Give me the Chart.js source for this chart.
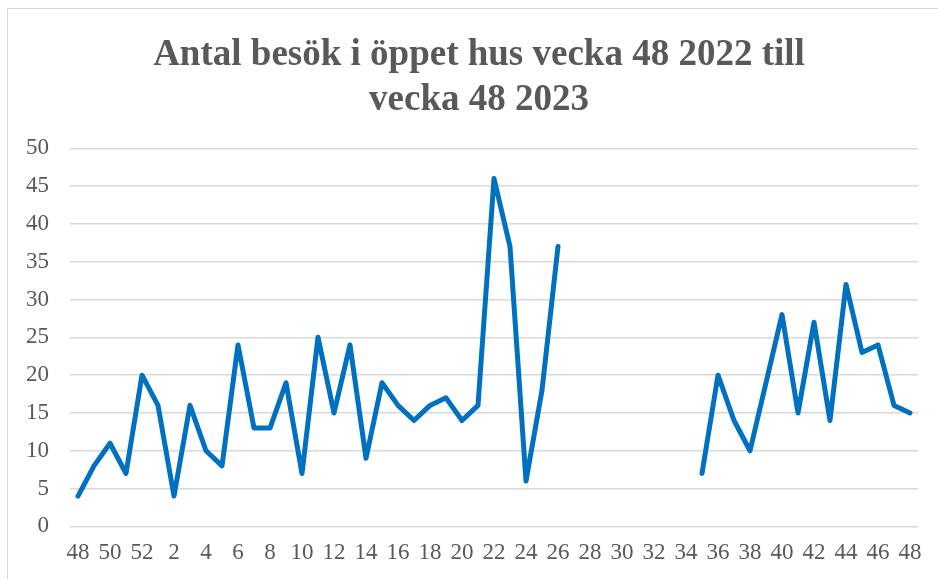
<!DOCTYPE html>
<html>
<head>
<meta charset="utf-8">
<script src="https://cdn.jsdelivr.net/npm/chart.js@4/dist/chart.umd.min.js"></script>
<style>
  html, body { margin: 0; padding: 0; background: #ffffff; overflow: hidden; }
  #frame { position: absolute; left: 7px; top: 8px; width: 940px; height: 580px; border: 1px solid #d9d9d9; }
  #chart { position: absolute; left: 0; top: 0; }
</style>
</head>
<body>
<div id="frame"></div>
<canvas id="chart" width="938" height="579"></canvas>
<script>
// weeks from v.48 2022 to v.48 2023
var weeks = [48, 49, 50, 51, 52,
  1, 2, 3, 4, 5, 6, 7, 8, 9, 10, 11, 12, 13, 14, 15, 16, 17, 18, 19, 20,
  21, 22, 23, 24, 25, 26, 27, 28, 29, 30, 31, 32, 33, 34, 35, 36, 37, 38,
  39, 40, 41, 42, 43, 44, 45, 46, 47, 48];

// number of visits, null = no data (summer break)
var visits = [4, 8, 11, 7, 20,
  16, 4, 16, 10, 8, 24, 13, 13, 19, 7, 25, 15, 24, 9, 19, 16, 14, 16, 17, 14,
  16, 46, 37, 6, 18, 37, null, null, null, null, null, null, null, null, 7, 20, 14, 10,
  19, 28, 15, 27, 14, 32, 23, 24, 16, 15];

var titleLines = ["Antal besök i öppet hus vecka 48 2022 till", "vecka 48 2023"];

var textGrey = "#595959";
var gridGrey = "#d9d9d9";
var serif = "'Liberation Serif', 'Times New Roman', serif";

// the original title sits a bit right of the padded box, nudge its box
var titleShift = {
  id: "titleShift",
  afterLayout: function (chart) {
    if (chart.titleBlock) {
      chart.titleBlock.left += 35;
    }
  }
};

var ctx = document.getElementById("chart").getContext("2d");
var chart = new Chart(ctx, {
  type: "line",
  data: {
    labels: weeks,
    datasets: [{
      data: visits,
      borderColor: "#0070c0",
      borderWidth: 5,
      borderJoinStyle: "round",
      borderCapStyle: "round",
      pointRadius: 0,
      tension: 0,
      spanGaps: false,
      fill: false
    }]
  },
  options: {
    responsive: false,
    animation: false,
    layout: { padding: { left: 5, right: 20, top: 0, bottom: 7 } },
    plugins: {
      legend: { display: false },
      tooltip: { enabled: false },
      title: {
        display: true,
        text: titleLines,
        color: textGrey,
        font: { family: serif, size: 37, weight: "bold", lineHeight: 1.22 },
        padding: { top: 33, bottom: 25 }
      }
    },
    scales: {
      x: {
        offset: true,
        grid: { display: false },
        border: { display: false },
        ticks: {
          autoSkip: false,
          maxRotation: 0,
          color: textGrey,
          padding: 5,
          font: { family: serif, size: 23 },
          callback: function (value, index) {
            return index % 2 === 0 ? this.getLabelForValue(value) : "";
          }
        }
      },
      y: {
        min: 0,
        max: 50,
        border: { display: false },
        grid: { color: gridGrey, lineWidth: 1.5, drawTicks: false },
        ticks: {
          stepSize: 5,
          color: textGrey,
          padding: 21,
          font: { family: serif, size: 23 }
        }
      }
    }
  },
  plugins: [titleShift]
});
</script>
</body>
</html>
